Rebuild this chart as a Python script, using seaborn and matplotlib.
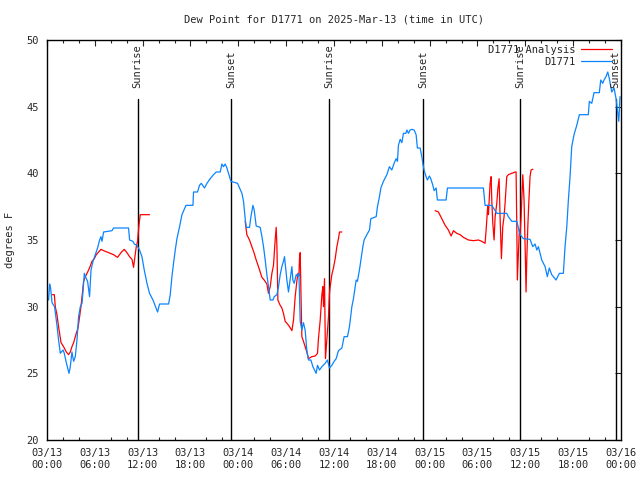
import numpy as np
import pandas as pd
import matplotlib
matplotlib.use("Agg")
import matplotlib.pyplot as plt
import matplotlib.dates as mdates
from matplotlib.lines import Line2D
import seaborn as sns

# ---------------- data (hours after 2025-03-13 00:00 UTC, degrees F) -------------
obs_hours = [0.20, 0.33, 0.45, 0.63, 0.95, 1.25, 1.45, 1.67, 2.01, 2.17, 2.42, 2.76, 2.92, 3.13,
             3.34, 3.55, 3.76, 3.96, 4.18, 4.39, 4.51, 4.68, 4.93, 5.09, 5.34, 5.52, 5.77, 6.06,
             6.34, 6.60, 6.77, 6.90, 7.10, 8.15, 8.35, 10.23, 10.36, 10.78, 10.95, 11.28, 11.61,
             11.91, 12.20, 12.54, 12.86, 13.29, 13.62, 13.87, 14.12, 15.25, 15.46, 15.67, 15.87,
             16.09, 16.30, 16.63, 16.93, 17.21, 17.43, 18.31, 18.38, 18.88, 19.13, 19.35, 19.76,
             20.06, 20.47, 20.89, 21.23, 21.73, 21.94, 22.14, 22.35, 22.57, 22.77, 23.07, 23.90,
             24.15, 24.45, 24.65, 24.86, 24.99, 25.40, 25.58, 25.83, 25.99, 26.24, 26.74, 26.96,
             27.16, 27.37, 27.58, 27.78, 27.91, 28.00, 28.34, 28.50, 28.84, 29.04, 29.25, 29.46,
             29.66, 29.79, 29.92, 30.09, 30.29, 30.50, 30.72, 30.84, 31.01, 31.26, 31.42, 31.60,
             31.76, 31.97, 32.17, 32.38, 32.59, 32.80, 33.10, 33.35, 33.76, 33.93, 34.18, 34.48,
             34.89, 35.18, 35.43, 35.73, 36.02, 36.27, 36.56, 36.99, 37.27, 37.69, 37.94, 38.24,
             38.44, 38.65, 38.78, 38.94, 39.19, 39.37, 39.62, 39.78, 40.12, 40.45, 40.62, 41.29,
             41.45, 41.70, 41.88, 42.20, 42.63, 42.95, 43.25, 43.54, 43.79, 43.96, 44.08, 44.30,
             44.51, 44.71, 45.01, 45.14, 45.34, 45.55, 45.76, 46.05, 46.30, 46.46, 46.80, 47.02,
             47.14, 47.30, 47.55, 47.72, 47.97, 48.14, 48.40, 48.56, 48.81, 48.97, 50.06, 50.23,
             54.74, 54.95, 55.79, 56.42, 57.67, 57.87, 58.30, 58.93, 59.34, 59.76, 60.59, 60.93,
             61.22, 61.44, 61.64, 62.06, 62.48, 62.76, 63.01, 63.31, 63.52, 63.85, 64.27, 64.77,
             64.98, 65.20, 65.40, 65.61, 65.82, 66.11, 66.45, 66.78, 67.90, 68.03, 68.33, 68.62,
             69.28, 69.46, 69.71, 69.87, 70.12, 70.34, 70.54, 70.84, 71.13, 71.38, 71.55, 71.72,
             71.88]
obs_dewpt = [30.5, 31.7, 31.4, 30.3, 30.0, 28.6, 27.5, 26.5, 26.75, 26.5, 25.8, 25.0, 25.5, 26.6,
             25.9, 26.25, 27.5, 29.25, 30.0, 30.25, 31.1, 32.5, 32.1, 31.9, 30.75, 32.75, 33.4, 33.9,
             34.4, 35.0, 35.25, 34.9, 35.6, 35.7, 35.9, 35.9, 35.0, 34.9, 34.7, 34.6, 34.25,
             33.75, 32.75, 31.75, 31.0, 30.5, 30.0, 29.6, 30.2, 30.2, 30.9, 32.25, 33.25,
             34.25, 35.1, 36.0, 36.9, 37.3, 37.6, 37.6, 38.6, 38.6, 39.1, 39.25, 38.9,
             39.25, 39.6, 39.9, 40.1, 40.1, 40.7, 40.5, 40.7, 40.4, 40.0, 39.4, 39.25,
             38.9, 38.5, 37.9, 36.6, 35.95, 35.95, 36.75, 37.6, 37.25, 36.05, 35.95, 35.25,
             34.5, 33.5, 32.4, 31.5, 30.9, 30.5, 30.5, 30.75, 30.9, 31.5, 32.4, 33.0,
             33.4, 33.75, 33.0, 32.0, 31.1, 32.0, 33.0, 32.0, 31.75, 32.4, 32.3, 32.5,
             28.9, 28.25, 28.8, 28.25, 26.75, 26.0, 26.0, 25.5, 25.0, 25.6, 25.25, 25.5,
             25.75, 26.0, 25.4, 25.6, 25.9, 26.1, 26.7, 26.9, 27.75, 27.75, 28.5, 30.0,
             30.6, 31.5, 32.0, 31.9, 32.75, 33.5, 34.5, 35.0, 35.4, 35.75, 36.6, 36.75,
             37.5, 38.25, 38.9, 39.4, 39.9, 40.5, 40.25, 40.75, 41.1, 40.9, 42.1, 42.55,
             42.3, 43.0, 43.0, 43.25, 43.0, 43.25, 43.3, 43.25, 42.9, 41.9, 41.9, 41.25,
             40.75, 40.25, 39.75, 39.5, 39.8, 39.6, 39.1, 38.7, 38.9, 38.0, 38.0, 38.9,
             38.9, 37.6, 37.6, 37.0, 37.0, 36.75, 36.4, 36.4, 35.4, 35.1, 35.05, 34.5,
             34.7, 34.25, 34.5, 33.5, 33.0, 32.25, 32.9, 32.4, 32.25, 32.0, 32.5, 32.5,
             34.5, 36.0, 38.0, 39.75, 42.0, 42.9, 43.6, 44.4, 44.4, 45.4, 45.25, 46.05,
             46.05, 47.0, 46.75, 47.0, 47.25, 47.6, 47.1, 46.1, 46.4, 45.6, 44.75, 43.9,
             45.75]

# Analysis series: three separate runs of points
ana_run_lengths = [45, 60, 54]
ana_hours = [0.63, 0.92, 1.04, 1.25, 1.45, 1.58, 1.76, 2.08, 2.42, 2.71, 2.92, 3.13, 3.34, 3.67,
             3.89, 4.09, 4.26, 4.46, 4.59, 4.80, 5.02, 5.22, 5.43, 5.64, 5.93, 6.18, 6.47, 6.77,
             7.10, 7.52, 7.94, 8.35, 8.85, 9.28, 9.69, 10.03, 10.36, 10.66, 10.86, 11.03, 11.20,
             11.36, 11.53, 11.70, 12.86,
             24.86, 25.07, 25.40, 25.70, 25.99, 26.24, 26.53, 26.74, 26.96, 27.24, 27.58, 27.78,
             28.00, 28.21, 28.41, 28.62, 28.75, 28.84, 28.96, 29.25, 29.46, 29.66, 29.88, 30.17,
             30.42, 30.72, 30.92, 31.13, 31.34, 31.47, 31.60, 31.67, 31.76, 31.88, 31.97, 32.17,
             32.38, 32.59, 32.80, 33.22, 33.64, 33.93, 34.05, 34.27, 34.48, 34.60, 34.68, 34.81,
             34.93, 35.10, 35.31, 35.43, 35.52, 35.73, 35.93, 36.15, 36.36, 36.56, 36.69, 36.99,
             48.68, 49.10, 49.52, 49.94, 50.35, 50.69, 50.98, 51.40, 51.82, 52.23, 52.86, 53.49,
             54.11, 54.54, 54.95, 55.08, 55.29, 55.37, 55.58, 55.71, 55.79, 55.92, 56.08, 56.21,
             56.42, 56.54, 56.71, 56.83, 57.00, 57.17, 57.33, 57.46, 57.67, 57.87, 58.30, 58.71,
             58.84, 58.93, 59.00, 59.13, 59.25, 59.34, 59.47, 59.68, 59.84, 60.01, 60.09, 60.18,
             60.31, 60.43, 60.59, 60.72, 60.88, 60.95]
ana_dewpt = [30.9, 30.9, 30.0, 29.4, 28.5, 28.0, 27.3, 27.0, 26.6, 26.4, 26.6, 27.0, 27.3, 28.0,
             28.4, 29.25, 30.0, 31.1, 31.9, 32.25, 32.5, 32.75, 33.05, 33.4, 33.6, 33.9, 34.1, 34.3,
             34.2, 34.1, 34.0, 33.9, 33.7, 34.05, 34.3, 34.05, 33.75, 33.55, 32.95, 33.75, 34.5,
             34.9, 36.1, 36.9, 36.9,
             36.4, 35.4, 35.0, 34.5, 34.0, 33.5, 33.0, 32.6, 32.2, 32.0, 31.7, 31.0,
             31.5, 32.5, 33.1, 35.0, 35.95, 34.5, 30.5, 30.1, 29.9, 29.5, 28.9, 28.7,
             28.5, 28.2, 29.0, 30.75, 31.9, 32.5, 32.3, 33.6, 34.05, 30.25, 27.75, 27.4,
             27.0, 26.6, 26.1, 26.25, 26.3, 26.5, 27.6, 29.0, 30.9, 31.5, 30.0, 32.1,
             26.1, 27.5, 29.25, 31.0, 31.5, 32.4, 32.9, 33.6, 34.5, 35.1, 35.6, 35.6,
             37.2, 37.1, 36.6, 36.1, 35.75, 35.3, 35.7, 35.5, 35.4, 35.2, 35.0, 34.95,
             35.0, 34.9, 34.75, 35.75, 37.6, 36.9, 39.25, 39.75, 38.0, 36.25, 35.0, 36.75,
             37.75, 38.75, 39.6, 36.75, 33.6, 36.0, 36.75, 37.75, 39.75, 39.9, 40.0, 40.1,
             40.1, 36.0, 32.0, 34.0, 35.75, 35.4, 36.75, 39.9, 38.0, 33.5, 31.1, 33.5,
             36.0, 37.75, 39.75, 40.25, 40.3, 40.3]

sun_hours = [11.36, 23.14, 35.43, 47.22, 59.38, 71.34]
sun_labels = ["Sunrise", "Sunset", "Sunrise", "Sunset", "Sunrise", "Sunset"]

series_names = ["D1771 Analysis", "D1771"]
title = "Dew Point for D1771 on 2025-Mar-13 (time in UTC)"
ylabel = "degrees F"
y_ticks = [20, 25, 30, 35, 40, 45, 50]

# ---------------- build frames ----------------
base = pd.Timestamp("2025-03-13 00:00")
obs = pd.DataFrame({"time": base + pd.to_timedelta(obs_hours, unit="h"), "dewpt": obs_dewpt})
ana_run = np.repeat(np.arange(len(ana_run_lengths)), ana_run_lengths)
ana = pd.DataFrame({"time": base + pd.to_timedelta(ana_hours, unit="h"), "dewpt": ana_dewpt,
                    "run": ana_run})

sns.set_style("white")
plt.rcParams["font.family"] = ["DejaVu Sans Mono", "DejaVu Sans"]
plt.rcParams["font.size"] = 7.5

RED = "#ff0000"
BLUE = "#0a84ff"

fig = plt.figure(figsize=(6.4, 4.8), dpi=100)
ax = fig.add_axes([47 / 640, 1 - 440 / 480, (621 - 47) / 640, 400 / 480])

sns.lineplot(data=ana, x="time", y="dewpt", units="run", estimator=None, color=RED,
             linewidth=0.9, ax=ax, legend=False, sort=False)
sns.lineplot(data=obs, x="time", y="dewpt", estimator=None, color=BLUE,
             linewidth=0.9, ax=ax, legend=False, sort=False)

ax.set_xlim(base, base + pd.Timedelta(hours=72))
ax.set_ylim(20, 50)
ax.set_yticks(y_ticks)

for h, lab in zip(sun_hours, sun_labels):
    t = base + pd.Timedelta(hours=h)
    ax.plot([t, t], [20, 45.6], color="black", linewidth=1.0, zorder=1)
    ax.text(t, 46.4, lab, rotation=90, ha="center", va="bottom", fontsize=7.5,
            clip_on=False)

ax.xaxis.set_major_locator(mdates.HourLocator(byhour=[0, 6, 12, 18]))
ax.xaxis.set_minor_locator(mdates.HourLocator(interval=2))
ax.xaxis.set_major_formatter(mdates.DateFormatter("%m/%d\n%H:%M"))

ax.tick_params(axis="both", which="major", direction="in", length=4, width=0.8,
               top=True, right=True, pad=6, labelsize=7.5)
ax.tick_params(axis="x", which="minor", direction="in", length=2, width=0.8,
               top=True, bottom=True)
for s in ax.spines.values():
    s.set_linewidth(1.0)
    s.set_color("black")

ax.set_xlabel("")
ax.set_ylabel("")
fig.text(10 / 640, 0.5, ylabel, rotation=90, ha="center", va="center", fontsize=7.5)
fig.text(334 / 640, 1 - 19 / 480, title, ha="center", va="center", fontsize=7.5)

handles = [Line2D([], [], color=RED, linewidth=0.9), Line2D([], [], color=BLUE, linewidth=0.9)]
leg = ax.legend(handles, series_names, loc="upper right", bbox_to_anchor=(0.995, 1.003),
                frameon=False, markerfirst=False, handlelength=3.0, handletextpad=0.5,
                labelspacing=0.2, fontsize=7.5, borderaxespad=0.2)

fig.savefig("out.png", dpi=100)
